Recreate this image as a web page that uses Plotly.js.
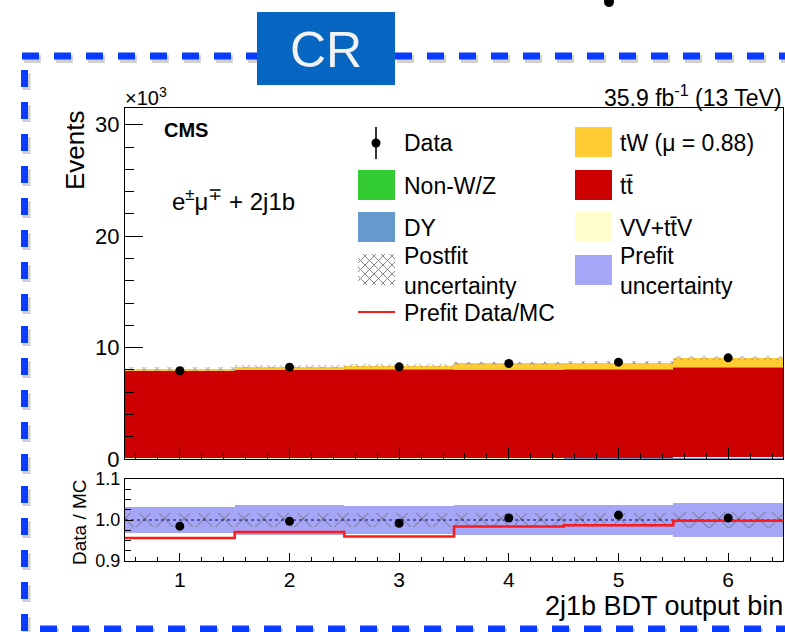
<!DOCTYPE html>
<html>
<head>
<meta charset="utf-8">
<script src="https://cdn.plot.ly/plotly-3.0.1.min.js"></script>
<style>html,body{margin:0;padding:0;background:#fff;}#plot{width:785px;height:632px;}</style>
</head>
<body>
<div id="plot"></div>
<script>
// ---------- data (events in units of 10^3) ----------
const bins = [1, 2, 3, 4, 5, 6];
const binLabels = ['1', '2', '3', '4', '5', '6'];
const dataEvents = [7.92, 8.24, 8.27, 8.57, 8.69, 9.08];
const dataErr = [0.09, 0.09, 0.09, 0.09, 0.09, 0.10];
const dyEvents = [0.03, 0.03, 0.03, 0.04, 0.05, 0.10];
const vvEvents = [0.03, 0.03, 0.03, 0.03, 0.03, 0.04];
const ttbarEvents = [7.86, 7.92, 7.97, 7.93, 7.95, 8.05];
const nonWZEvents = [0.02, 0.03, 0.05, 0.03, 0.03, 0.07];
const tWEvents = [0.13, 0.28, 0.30, 0.55, 0.59, 0.82];
const postfitRelUnc = [0.018, 0.018, 0.018, 0.018, 0.018, 0.019];
const ratioData = [0.985, 0.997, 0.992, 1.005, 1.012, 1.005];
const prefitRatio = [0.956, 0.971, 0.960, 0.984, 0.987, 0.998];
const prefitRelUnc = [0.032, 0.036, 0.035, 0.036, 0.036, 0.041];
const yTicks = [0, 10, 20, 30];
const rTicks = [0.9, 1.0, 1.1];
const rTickText = ['0.9', '1.0', '1.1'];

// ---------- geometry helpers ----------
const W = 785, H = 632;
const px = x => x / W;
const py = y => 1 - y / H;
const FONT = 'Liberation Sans, Arial, Helvetica, sans-serif';

const colors = {
  dy: '#6699cc', vv: '#ffffcc', tt: '#cc0000', nonwz: '#33cc33', tw: '#ffcc33',
  prefit: '#a6a6f7', blue: '#0a3cff'
};

// stacking (bottom -> top)
const stackDefs = [
  {name: 'DY', vals: dyEvents, color: colors.dy},
  {name: 'VV+ttV', vals: vvEvents, color: colors.vv},
  {name: 'ttbar', vals: ttbarEvents, color: colors.tt},
  {name: 'Non-W/Z', vals: nonWZEvents, color: colors.nonwz},
  {name: 'tW', vals: tWEvents, color: colors.tw}
];
const cum = bins.map(() => 0);
const traces = [];
stackDefs.forEach(s => {
  const base = cum.slice();
  traces.push({
    type: 'bar', x: bins, y: s.vals, base: base, width: 1,
    marker: {color: s.color, line: {width: 0}},
    xaxis: 'x', yaxis: 'y', showlegend: false, hoverinfo: 'skip', name: s.name
  });
  s.vals.forEach((v, i) => cum[i] += v);
});
const totals = cum.slice();

// postfit hatch on top of stack
traces.push({
  type: 'bar', x: bins, width: 1,
  base: totals.map((t, i) => t * (1 - postfitRelUnc[i])),
  y: totals.map((t, i) => 2 * t * postfitRelUnc[i]),
  marker: {color: 'rgba(0,0,0,0)', line: {width: 0},
    pattern: {shape: 'x', fgcolor: '#8a8a8a', bgcolor: 'rgba(0,0,0,0)', size: 9, solidity: 0.2}},
  xaxis: 'x', yaxis: 'y', showlegend: false, hoverinfo: 'skip'
});

// data points
traces.push({
  type: 'scatter', mode: 'markers', x: bins, y: dataEvents,
  error_y: {type: 'data', array: dataErr, color: '#000', thickness: 1.5, width: 0},
  marker: {color: '#000', size: 9},
  xaxis: 'x', yaxis: 'y', showlegend: false, hoverinfo: 'skip'
});

// ratio: prefit uncertainty band
traces.push({
  type: 'bar', x: bins, width: 1,
  base: prefitRelUnc.map(u => 1 - u),
  y: prefitRelUnc.map(u => 2 * u),
  marker: {color: colors.prefit, line: {width: 0}},
  xaxis: 'x2', yaxis: 'y2', showlegend: false, hoverinfo: 'skip'
});
// ratio: postfit hatch
traces.push({
  type: 'bar', x: bins, width: 1,
  base: postfitRelUnc.map(u => 1 - u),
  y: postfitRelUnc.map(u => 2 * u),
  marker: {color: 'rgba(0,0,0,0)', line: {width: 0},
    pattern: {shape: 'x', fgcolor: '#666', bgcolor: 'rgba(0,0,0,0)', size: 14, solidity: 0.12}},
  xaxis: 'x2', yaxis: 'y2', showlegend: false, hoverinfo: 'skip'
});
// ratio: reference line at 1
const edges = bins.map(b => b - 0.5).concat([bins[bins.length - 1] + 0.5]);
traces.push({
  type: 'scatter', mode: 'lines', x: [edges[0], edges[edges.length - 1]], y: [1, 1],
  line: {color: '#000080', width: 1, dash: 'dot'},
  xaxis: 'x2', yaxis: 'y2', showlegend: false, hoverinfo: 'skip'
});
// ratio: prefit data/MC step line
traces.push({
  type: 'scatter', mode: 'lines', x: edges,
  y: prefitRatio.concat([prefitRatio[prefitRatio.length - 1]]),
  line: {color: '#ff1a1a', width: 2.5, shape: 'hv'},
  xaxis: 'x2', yaxis: 'y2', showlegend: false, hoverinfo: 'skip'
});
// ratio: data points
traces.push({
  type: 'scatter', mode: 'markers', x: bins, y: ratioData,
  marker: {color: '#000', size: 9},
  xaxis: 'x2', yaxis: 'y2', showlegend: false, hoverinfo: 'skip'
});

// ---------- shapes ----------
const shapes = [];
function seg(x0, y0, x1, y1, color, width, dash) {
  shapes.push({type: 'line', xref: 'paper', yref: 'paper', x0: px(x0), y0: py(y0), x1: px(x1), y1: py(y1),
    line: {color: color, width: width, dash: dash || 'solid'}});
}
function rect(x0, y0, x1, y1, fill) {
  shapes.push({type: 'rect', xref: 'paper', yref: 'paper', x0: px(x0), y0: py(y1), x1: px(x1), y1: py(y0),
    fillcolor: fill, line: {width: 0}});
}
// dashed blue frame with soft shadow
const frameSegs = [[22, 56, 257, 56], [395, 56, 785, 56], [24.5, 70, 24.5, 632], [40, 629, 785, 629]];
frameSegs.forEach(s => seg(s[0] + 2, s[1] + 3, s[2] + 2, s[3] + 3, 'rgba(0,0,0,0.18)', 8, '17px,15px'));
frameSegs.forEach(s => seg(s[0], s[1], s[2], s[3], colors.blue, 7, '17px,15px'));
// CR box
rect(257, 12, 395, 85, '#0866c3');
// cropped glyph fragment at the top edge of the slide
shapes.push({type: 'circle', xref: 'paper', yref: 'paper', x0: px(604), x1: px(614), y0: py(7), y1: py(-4),
  fillcolor: '#000', line: {width: 0}});

// legend swatches
seg(376, 127, 376, 159, '#333', 2);
shapes.push({type: 'circle', xref: 'paper', yref: 'paper', x0: px(371.5), x1: px(380.5), y0: py(147.5), y1: py(138.5),
  fillcolor: '#000', line: {width: 0}});
rect(358, 170, 395, 200, colors.nonwz);
rect(358, 212, 395, 242, colors.dy);
rect(575, 127, 612, 157, colors.tw);
rect(575, 170, 612, 200, colors.tt);
rect(575, 212, 612, 242, colors.vv);
rect(575, 255, 612, 285, colors.prefit);
seg(358, 312, 395, 312, '#ff1a1a', 2);
// hatch swatch (postfit)
(function () {
  const x0 = 358, x1 = 395, y0 = 254, y1 = 285, step = 9;
  for (let c = x0 - (y1 - y0); c < x1; c += step) {
    let ax = c, ay = y0, bx = c + (y1 - y0), by = y1;
    if (ax < x0) { ay += x0 - ax; ax = x0; }
    if (bx > x1) { by -= bx - x1; bx = x1; }
    if (ay < by) seg(ax, ay, bx, by, '#888', 1);
    let cx = c, cy = y1, dx = c + (y1 - y0), dy = y0;
    if (cx < x0) { cy -= x0 - cx; cx = x0; }
    if (dx > x1) { dy += dx - x1; dx = x1; }
    if (dy < cy) seg(cx, cy, dx, dy, '#888', 1);
  }
})();

// ---------- annotations ----------
const ann = [];
function txt(x, y, text, size, opts) {
  ann.push(Object.assign({xref: 'paper', yref: 'paper', x: px(x), y: py(y), text: text, showarrow: false,
    xanchor: 'left', yanchor: 'middle', align: 'left', font: {family: FONT, size: size, color: '#000'}}, opts || {}));
}
txt(326, 50, 'CR', 50, {xanchor: 'center', font: {family: FONT, size: 50, color: '#f2f2f2'}});
txt(123, 96, '×10<sup>3</sup>', 20);
txt(784, 96, '35.9 fb<sup>-1</sup> (13 TeV)', 23, {xanchor: 'right'});
txt(162, 130, '<b>CMS</b>', 20);
txt(170, 200, 'e<sup>±</sup>μ<sup>∓</sup> + 2j1b', 24);
txt(75, 108, 'Events', 26, {textangle: -90, xanchor: 'center', yanchor: 'top'});
txt(79, 522, 'Data / MC', 19, {textangle: -90, xanchor: 'center'});
txt(785, 606, '2j1b BDT output bin', 27, {xanchor: 'right'});
// legend text
txt(402, 143, 'Data', 23);
txt(402, 186, 'Non-W/Z', 23);
txt(402, 228, 'DY', 23);
txt(402, 271, 'Postfit<br>uncertainty', 23);
txt(402, 313, 'Prefit Data/MC', 23);
txt(618, 143, 'tW (μ = 0.88)', 23);
txt(618, 186, 'tt\u0304', 23);
txt(618, 228, 'VV+tt\u0304V', 23);
txt(618, 271, 'Prefit<br>uncertainty', 23);

// ---------- layout ----------
const xDomain = [px(125), px(783)];
const commonX = {
  domain: xDomain, range: [edges[0], edges[edges.length - 1]],
  showgrid: false, zeroline: false, showline: true, linecolor: '#000', linewidth: 1, mirror: true,
  ticks: 'inside', tickcolor: '#000', tickvals: bins, ticktext: binLabels
};
const layout = {
  width: W, height: H, margin: {l: 0, r: 0, t: 0, b: 0},
  paper_bgcolor: '#fff', plot_bgcolor: '#fff', barmode: 'overlay', bargap: 0,
  showlegend: false,
  xaxis: Object.assign({}, commonX, {anchor: 'y', showticklabels: false, ticklen: 12,
    minor: {dtick: 0.2, tick0: 0, ticklen: 6, ticks: 'inside', tickcolor: '#000'}}),
  xaxis2: Object.assign({}, commonX, {anchor: 'y2', ticklen: 8,
    tickfont: {family: FONT, size: 21, color: '#000'},
    minor: {dtick: 0.2, tick0: 0, ticklen: 4, ticks: 'inside', tickcolor: '#000'}}),
  yaxis: {domain: [py(459), py(108)], range: [0, 31.5], anchor: 'x',
    showgrid: false, zeroline: false, showline: true, linecolor: '#000', mirror: true,
    ticks: 'inside', ticklen: 18, tickcolor: '#000', tickvals: yTicks,
    tickfont: {family: FONT, size: 22, color: '#000'},
    minor: {dtick: 2, ticklen: 9, ticks: 'inside', tickcolor: '#000'}},
  yaxis2: {domain: [py(561), py(479)], range: [0.9, 1.1], anchor: 'x2',
    showgrid: false, zeroline: false, showline: true, linecolor: '#000', mirror: true,
    ticks: 'inside', ticklen: 8, tickcolor: '#000', tickvals: rTicks, ticktext: rTickText,
    tickfont: {family: FONT, size: 18, color: '#000'},
    minor: {dtick: 0.025, tick0: 0.9, ticklen: 6, ticks: 'inside', tickcolor: '#000'}},
  shapes: shapes,
  annotations: ann
};
Plotly.newPlot('plot', traces, layout, {staticPlot: true, displayModeBar: false});
</script>
</body>
</html>
